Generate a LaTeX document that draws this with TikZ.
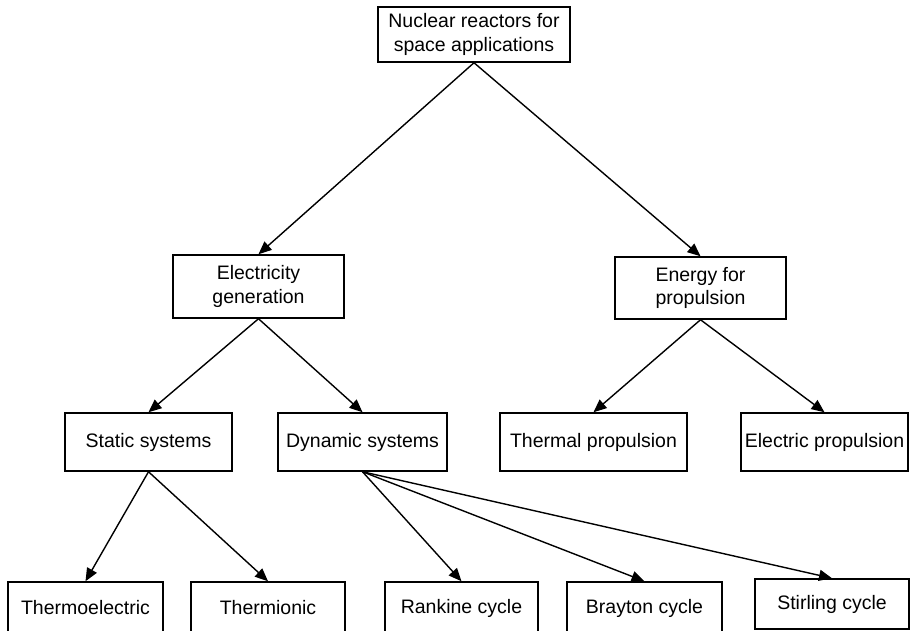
\documentclass[tikz,border=0pt]{standalone}
\usepackage{fontspec}
\setmainfont{Liberation Sans}
\usetikzlibrary{arrows.meta}

\begin{document}
\begin{tikzpicture}[x=1pt,y=-1pt,
  box/.style={shape=rectangle,draw=black,line width=1.5pt,inner sep=2pt,
    align=center,font=\fontsize{19.5}{23.5}\selectfont},
  link/.style={line width=1.4pt,-{Triangle[length=13pt,width=11pt]}}]
\useasboundingbox (0,0) rectangle (910,631);
\node[box,minimum width=192,minimum height=55] (nuc) at (474,34.5) {Nuclear reactors for\\space applications};
\node[box,minimum width=171,minimum height=63] (elec) at (258.5,286.5) {Electricity\\generation};
\node[box,minimum width=171,minimum height=62] (prop) at (700.5,288) {Energy for\\propulsion};
\node[box,minimum width=167,minimum height=58] (static) at (148.5,442) {Static systems};
\node[box,minimum width=169,minimum height=58] (dyn) at (362.5,442) {Dynamic systems};
\node[box,minimum width=187,minimum height=58] (thprop) at (593.5,442) {Thermal propulsion};
\node[box,minimum width=167,minimum height=58] (elprop) at (824.5,442) {Electric propulsion};
\node[box,minimum width=155,minimum height=52] (tel) at (85.5,608) {Thermoelectric};
\node[box,minimum width=154,minimum height=52] (tion) at (268,608) {Thermionic};
\node[box,minimum width=153,minimum height=52] (rank) at (461.5,608) {Rankine cycle};
\node[box,minimum width=155,minimum height=52] (bray) at (644.5,608) {Brayton cycle};
\node[box,minimum width=154,minimum height=50] (stir) at (832,604) {Stirling cycle};
\draw[link] (nuc.south)--(elec.north);
\draw[link] (nuc.south)--(prop.north);
\draw[link] (elec.south)--(static.north);
\draw[link] (elec.south)--(dyn.north);
\draw[link] (prop.south)--(thprop.north);
\draw[link] (prop.south)--(elprop.north);
\draw[link] (static.south)--(tel.north);
\draw[link] (static.south)--(tion.north);
\draw[link] (dyn.south)--(rank.north);
\draw[link] (dyn.south)--(bray.north);
\draw[link] (dyn.south)--(stir.north);
\end{tikzpicture}
\end{document}
